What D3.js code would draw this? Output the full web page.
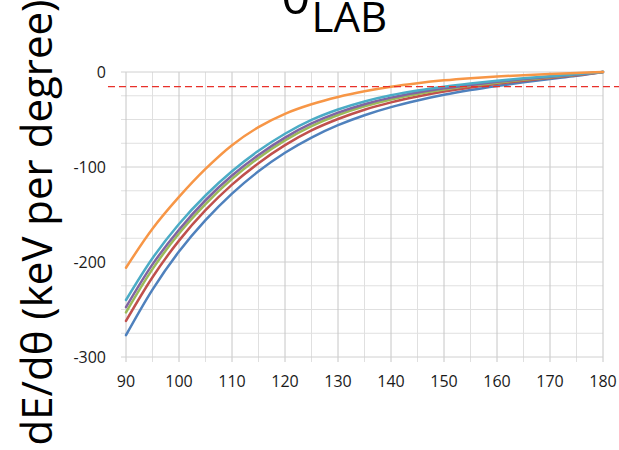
<!DOCTYPE html>
<html>
<head>
<meta charset="utf-8">
<script src="https://cdn.jsdelivr.net/npm/d3@7"></script>
<style>
  body { margin: 0; background: #fff; }
  text { font-family: "Open Sans", "DejaVu Sans", sans-serif; }
</style>
</head>
<body>
<div id="chart"></div>
<script>
// angle (degrees, lab frame)
var angles = [90, 95, 100, 105, 110, 115, 120, 125, 130, 135, 140, 145, 150, 155, 160, 165, 170, 175, 180];

// dE/dθ (keV per degree), one list per curve
var seriesBlue   = [-277, -229, -189, -156, -128, -104.5, -85, -69, -56, -45.5, -37, -30, -24, -19, -14.7, -10.9, -7.4, -4, 0];
var seriesRed    = [-262, -216, -177.5, -145.5, -118.5, -96, -77, -61.5, -49.5, -39.7, -32, -25.8, -20.6, -16.3, -12.5, -9.2, -6.2, -3.3, 0];
var seriesGreen  = [-253, -207.5, -170, -139, -112.5, -90.5, -72, -57, -45.3, -36.1, -28.9, -23.2, -18.5, -14.6, -11.2, -8.2, -5.5, -2.8, 0];
var seriesPurple = [-247.5, -202.5, -166, -135, -109, -87.3, -69, -54.2, -42.8, -33.9, -27, -21.6, -17.2, -13.6, -10.4, -7.5, -5, -2.6, 0];
var seriesTeal   = [-240, -196, -160, -130, -104.5, -83, -65, -50.5, -39.5, -31, -24.5, -19.5, -15.5, -12.2, -9.3, -6.7, -4.4, -2.2, 0];
var seriesOrange = [-206, -165, -131.5, -102, -77, -58, -44, -34, -26.3, -20.3, -15.5, -11.8, -8.8, -6.5, -4.7, -3.3, -2.2, -1.1, 0];

var seriesColors = ["#4F81BD", "#C0504D", "#9BBB59", "#8064A2", "#4BACC6", "#F79646"];

var xTicks = [90, 100, 110, 120, 130, 140, 150, 160, 170, 180];
var xMinor = [95, 105, 115, 125, 135, 145, 155, 165, 175];
var yTicks = [0, -100, -200, -300];
var yMinor = [-25, -50, -75, -125, -150, -175, -225, -250, -275];

var refLevel = -15.3;          // red dashed threshold
var refSpan = [86.6, 184];     // angular reach of the dashed line

var svg = d3.select("#chart").append("svg")
    .attr("width", 619)
    .attr("height", 450);

var margin = {top: 72, right: 16, bottom: 93, left: 126},
    width = 619 - margin.left - margin.right,
    height = 450 - margin.top - margin.bottom,
    g = svg.append("g").attr("transform", "translate(" + margin.left + "," + margin.top + ")");

var x = d3.scaleLinear().domain([90, 180]).range([0, width]);
var y = d3.scaleLinear().domain([-300, 0]).range([height, 0]);

// minor grid
g.selectAll(".vminor").data(xMinor).enter().append("line")
    .attr("x1", x).attr("x2", x)
    .attr("y1", 0).attr("y2", height + 5)
    .attr("stroke", "#e0e0e0").attr("stroke-width", 1);
g.selectAll(".hminor").data(yMinor).enter().append("line")
    .attr("x1", -5).attr("x2", width)
    .attr("y1", y).attr("y2", y)
    .attr("stroke", "#e0e0e0").attr("stroke-width", 1);

// major grid
g.selectAll(".vmajor").data(xTicks).enter().append("line")
    .attr("x1", x).attr("x2", x)
    .attr("y1", 0).attr("y2", height + 5)
    .attr("stroke", "#c6c6c6").attr("stroke-width", 1);
g.selectAll(".hmajor").data(yTicks).enter().append("line")
    .attr("x1", -5).attr("x2", width)
    .attr("y1", y).attr("y2", y)
    .attr("stroke", "#d0d0d0").attr("stroke-width", 1);

// tick labels
g.selectAll(".xlab").data(xTicks).enter().append("text")
    .attr("x", x)
    .attr("y", height + 30)
    .attr("text-anchor", "middle")
    .attr("font-size", 16)
    .attr("fill", "#1a1a1a")
    .text(function(d) { return d; });

g.selectAll(".ylab").data(yTicks).enter().append("text")
    .attr("x", -20)
    .attr("y", y)
    .attr("dy", "0.35em")
    .attr("text-anchor", "end")
    .attr("font-size", 16)
    .attr("fill", "#1a1a1a")
    .text(function(d) { return d; });

// curves
var allSeries = [seriesBlue, seriesRed, seriesGreen, seriesPurple, seriesTeal, seriesOrange];

var line = d3.line()
    .x(function(d, i) { return x(angles[i]); })
    .y(function(d) { return y(d); })
    .curve(d3.curveCatmullRom.alpha(0.5));

allSeries.forEach(function(s, k) {
    g.append("path")
        .datum(s)
        .attr("fill", "none")
        .attr("stroke", seriesColors[k])
        .attr("stroke-width", 2.5)
        .attr("stroke-linejoin", "round")
        .attr("stroke-linecap", "round")
        .attr("d", line);
});

// threshold line
g.append("line")
    .attr("x1", x(refSpan[0])).attr("x2", x(refSpan[1]))
    .attr("y1", y(refLevel)).attr("y2", y(refLevel))
    .attr("stroke", "#e8302a")
    .attr("stroke-width", 1.3)
    .attr("stroke-dasharray", "7,4");

// titles (partly above the top edge, as in the original)
var title = svg.append("text")
    .attr("x", 281)
    .attr("y", 14)
    .attr("font-family", "'Liberation Sans', Arial, sans-serif")
    .attr("fill", "#000");
title.append("tspan").attr("font-size", 50).text("θ");
title.append("tspan").attr("font-size", 42).attr("dy", 18).attr("dx", 1).text("LAB");

svg.append("text")
    .attr("transform", "translate(52," + (margin.top + height / 2 + 8) + ") rotate(-90)")
    .attr("text-anchor", "middle")
    .attr("font-family", "'Liberation Sans', Arial, sans-serif")
    .attr("font-size", 42)
    .attr("fill", "#000")
    .text("dE/dθ (keV per degree)");
</script>
</body>
</html>
